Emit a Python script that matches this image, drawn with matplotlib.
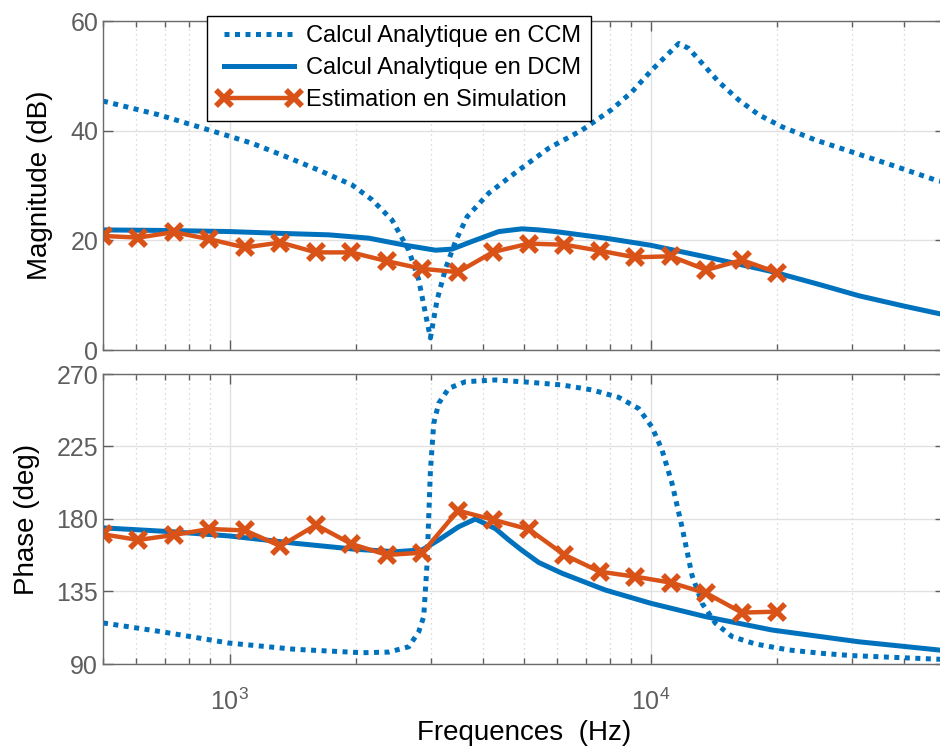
import matplotlib
matplotlib.use("Agg")
import matplotlib.pyplot as plt
from matplotlib.ticker import FixedLocator, NullFormatter, LogLocator

plt.rcParams['font.family'] = ['Liberation Sans', 'DejaVu Sans']
plt.rcParams['mathtext.fontset'] = 'custom'
plt.rcParams['mathtext.rm'] = 'Liberation Sans'
plt.rcParams['mathtext.it'] = 'Liberation Sans'

BLUE = '#0072BD'
ORANGE = '#D95319'
GRAY = '#5e5e5e'

# --- donnees ---
# estimation en simulation (20 points)
f_sim = [500, 607, 737, 895, 1087, 1320, 1603, 1946, 2363, 2869,
         3484, 4230, 5136, 6237, 7573, 9196, 11166, 13558, 16462, 20000]
mag_sim = [20.8, 20.5, 21.5, 20.2, 18.7, 19.6, 17.8, 17.8, 16.2, 14.8,
           14.2, 17.9, 19.4, 19.2, 18.1, 16.9, 17.1, 14.6, 16.4, 14.1]
ph_sim = [170.5, 167.0, 170.1, 173.8, 172.9, 163.2, 176.3, 164.5, 157.7, 159.1,
          185.2, 179.5, 173.6, 157.7, 147.3, 144.2, 140.5, 133.9, 121.9, 122.5]

# calcul analytique CCM - magnitude
f_ccm_mag = [500, 678, 968, 1130, 1356, 1627, 1952, 2178, 2430, 2662,
             2811, 2916, 2997, 3108, 3254, 3437, 3663, 4123, 4859, 5725,
             6867, 8092, 9029, 10072, 11036, 11655, 12312, 13239, 14505, 16182,
             18053, 20510, 24615, 30640, 37430, 47460, 50000]
mag_ccm = [45.4, 42.9, 39.3, 37.7, 35.3, 32.8, 30.1, 27.4, 23.7, 18.2,
           12.8, 6.7, 2.2, 9.1, 14.8, 19.8, 24.3, 28.6, 32.8, 36.8,
           40.1, 43.9, 47.1, 51.1, 54.1, 55.9, 55.0, 52.3, 48.9, 45.6,
           42.9, 40.7, 38.3, 35.9, 33.7, 31.0, 30.6]

# calcul analytique CCM - phase
f_ccm_ph = [500, 690, 995, 1432, 2062, 2387, 2662, 2811, 2889, 2916,
            2942, 2968, 2997, 3052, 3136, 3313, 3629, 4277, 5131, 6157,
            7254, 8395, 9366, 10072, 10638, 11237, 11866, 12535, 13239, 14245,
            15601, 17735, 21273, 25527, 30084, 50000]
ph_ccm = [115.5, 110.0, 103.0, 99.1, 97.0, 97.4, 100.7, 110.0, 119.4, 135.9,
          152.0, 180.0, 210.0, 239.4, 251.8, 261.1, 265.2, 266.3, 264.9, 263.2,
          260.1, 255.5, 248.5, 237.0, 222.8, 202.0, 175.0, 145.0, 127.7, 115.3,
          107.0, 102.4, 98.7, 96.6, 95.2, 92.8]

# calcul analytique DCM
f_dcm_mag = [500, 700, 1000, 1284, 1719, 2139, 2614, 3082, 3373, 3763,
             4355, 4947, 5420, 5937, 7804, 10000, 13490, 19410, 25000, 31190,
             40000, 50000]
mag_dcm = [21.9, 21.8, 21.6, 21.3, 21.0, 20.4, 19.1, 18.2, 18.4, 19.8,
           21.6, 22.1, 21.9, 21.6, 20.4, 19.1, 17.0, 14.3, 12.0, 9.9,
           8.0, 6.4]
f_dcm_ph = [500, 729, 995, 1432, 1989, 2475, 2863, 3136, 3499, 3834,
            4277, 4600, 4947, 5420, 6157, 7804, 10000, 13490, 19410, 31190, 50000]
ph_dcm = [174.5, 172.1, 169.5, 164.9, 161.2, 159.7, 160.8, 167.0, 175.2, 180.0,
          174.0, 167.0, 160.5, 153.0, 146.3, 135.9, 127.7, 119.4, 111.1, 103.8, 98.3]

fig = plt.figure(figsize=(9.4, 7.54), dpi=100)
ax1 = fig.add_axes([103 / 940, 1 - 350 / 754, 842 / 940, 329 / 754])
ax2 = fig.add_axes([103 / 940, 1 - 664 / 754, 842 / 940, 290 / 754])

dot = (0, (1, 1.1))
ax1.plot(f_ccm_mag, mag_ccm, color=BLUE, lw=3.6, linestyle=dot, label='Calcul Analytique en CCM')
ax1.plot(f_dcm_mag, mag_dcm, color=BLUE, lw=3.6, label='Calcul Analytique en DCM')
ax1.plot(f_sim, mag_sim, color=ORANGE, lw=3.2, marker='x', ms=12, mew=4,
         label='Estimation en Simulation')

ax2.plot(f_ccm_ph, ph_ccm, color=BLUE, lw=3.6, linestyle=dot)
ax2.plot(f_dcm_ph, ph_dcm, color=BLUE, lw=3.6)
ax2.plot(f_sim, ph_sim, color=ORANGE, lw=3.2, marker='x', ms=12, mew=4)

for ax in (ax1, ax2):
    ax.set_xscale('log')
    ax.set_xlim(500, 50000)
    ax.xaxis.set_major_locator(FixedLocator([1e3, 1e4]))
    ax.xaxis.set_minor_locator(LogLocator(base=10, subs=range(2, 10), numticks=20))
    ax.xaxis.set_minor_formatter(NullFormatter())
    ax.grid(True, which='major', color='#e1e1e1', lw=1.0, ls='-')
    ax.grid(True, which='minor', axis='x', color='#cfcfcf', lw=0.9, ls=(0, (1, 3)))
    ax.set_axisbelow(True)
    ax.tick_params(which='both', direction='in', top=True, right=True,
                   colors=GRAY, labelsize=18)
    ax.tick_params(which='major', length=7, width=1)
    ax.tick_params(which='minor', length=4, width=1)
    for s in ax.spines.values():
        s.set_color('#6a6a6a')
        s.set_linewidth(1.0)

ax1.set_ylim(0, 60)
ax1.set_yticks([0, 20, 40, 60])
ax1.set_xticklabels([])
ax1.set_ylabel('Magnitude (dB)', fontsize=20, labelpad=12)

ax2.set_ylim(90, 270)
ax2.set_yticks([90, 135, 180, 225, 270])
ax2.set_xticks([1e3, 1e4])
ax2.set_xticklabels(['$10^{3}$', '$10^{4}$'])
ax2.tick_params(axis='x', which='major', pad=18)
ax2.set_ylabel('Phase (deg)', fontsize=20, labelpad=12)
ax2.set_xlabel('Frequences  (Hz)', fontsize=20, labelpad=3)

leg = ax1.legend(loc='upper left', bbox_to_anchor=(207 / 940, 1 - 16 / 754),
                 bbox_transform=fig.transFigure, borderaxespad=0, fontsize=17,
                 fancybox=False, framealpha=1, edgecolor='black', numpoints=2,
                 handlelength=3.6, handletextpad=0.2, labelspacing=0.42,
                 borderpad=0.4)
leg.get_frame().set_linewidth(1.0)

fig.savefig('out.png', dpi=100)
